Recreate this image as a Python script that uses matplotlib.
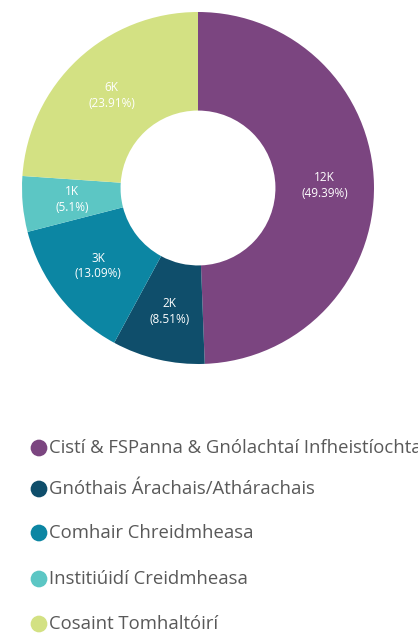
import matplotlib
matplotlib.use("Agg")
import matplotlib.pyplot as plt
import numpy as np

categories = ["Cistí & FSPanna & Gnólachtaí Infheistíochta",
              "Gnóthais Árachais/Athárachais",
              "Comhair Chreidmheasa",
              "Institiúidí Creidmheasa",
              "Cosaint Tomhaltóirí"]
values_k = ["12K", "2K", "3K", "1K", "6K"]
percents = [49.39, 8.51, 13.09, 5.1, 23.91]
colors = ["#7B4580", "#0F4E6B", "#0C86A3", "#5CC6C4", "#D3E183"]

W, H = 418, 635
fig = plt.figure(figsize=(W / 100, H / 100), dpi=100)
plt.rcParams['font.family'] = ['Open Sans', 'DejaVu Sans']

cx, cy, R = 198, 188, 176
ax = fig.add_axes([(cx - R) / W, (H - cy - R) / H, 2 * R / W, 2 * R / H])
inner = 0.44
wedges, _ = ax.pie(percents, colors=colors, startangle=90, counterclock=False,
                   radius=1, wedgeprops=dict(width=1 - inner, edgecolor="none"))
mid_r = (1 + inner) / 2
for w, v, p in zip(wedges, values_k, percents):
    ang = np.deg2rad((w.theta1 + w.theta2) / 2)
    ax.text(mid_r * np.cos(ang), mid_r * np.sin(ang), f"{v}\n({p}%)",
            ha="center", va="center", color="white", fontsize=8.5, linespacing=1.25)
ax.set_xlim(-1, 1)
ax.set_ylim(-1, 1)
ax.set_aspect("equal")
ax.axis("off")

leg_y = [448, 489, 533, 579, 624]
lax = fig.add_axes([0, 0, 1, 1])
lax.set_xlim(0, W)
lax.set_ylim(H, 0)
lax.axis("off")
for c, lab, y in zip(colors, categories, leg_y):
    lax.scatter([39], [y], s=145, color=c, edgecolor="none")
    lax.text(49, y, lab, ha="left", va="center", fontsize=13.3, color="#595959")

fig.savefig("out.png", dpi=100)
